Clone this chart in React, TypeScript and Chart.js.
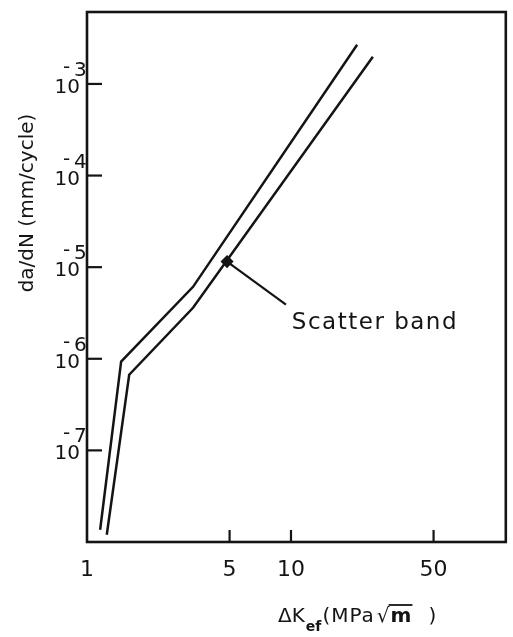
import React, { useEffect, useRef } from "react";
import { Chart, registerables } from "chart.js";

Chart.register(...registerables);

// ---- data ----
const upperDK = [1.16, 1.47, 3.31, 21.1];
const upperRate = [1.36e-8, 9.3e-7, 6.1e-6, 2.68e-3];
const lowerDK = [1.25, 1.61, 3.31, 25.2];
const lowerRate = [1.2e-8, 6.7e-7, 3.6e-6, 1.98e-3];
const pointerDK = [4.86, 9.45];
const pointerRate = [1.15e-5, 3.9e-6];
const xTicks = [1, 5, 10, 50];
const xTickLabels = ["1", "5", "10", "50"];
const xInnerTicks = [5, 10, 50];
const yTicks = [1e-3, 1e-4, 1e-5, 1e-6, 1e-7];
const yTickExponents = ["3", "4", "5", "6", "7"];
const annotationText = "Scatter band";
const annotationDK = 10.1;
const annotationRate = 2.47e-6;
const yTitle = "da/dN (mm/cycle)";

const FONT = "'DejaVu Sans', 'Liberation Sans', sans-serif";
const INK = "#141414";

const decorPlugin = {
  id: "decor",
  afterDatasetsDraw(chart: any) {
    const { ctx, chartArea } = chart;
    const xs = chart.scales.x;
    const ys = chart.scales.y;
    const { left, right, top, bottom } = chartArea;
    ctx.save();
    ctx.strokeStyle = INK;
    ctx.fillStyle = INK;
    // frame
    ctx.lineWidth = 2.6;
    ctx.strokeRect(left, top, right - left, bottom - top);
    // inward ticks
    ctx.lineWidth = 2.2;
    xInnerTicks.forEach((v) => {
      const px = xs.getPixelForValue(v);
      ctx.beginPath();
      ctx.moveTo(px, bottom);
      ctx.lineTo(px, bottom - 12);
      ctx.stroke();
    });
    yTicks.forEach((v) => {
      const py = ys.getPixelForValue(v);
      ctx.beginPath();
      ctx.moveTo(left, py);
      ctx.lineTo(left + 15, py);
      ctx.stroke();
    });
    // x tick labels
    ctx.font = `22px ${FONT}`;
    ctx.textAlign = "center";
    ctx.textBaseline = "middle";
    xTicks.forEach((v, i) => {
      ctx.fillText(xTickLabels[i], xs.getPixelForValue(v), 570);
    });
    // y tick labels: 10 with superscript exponent
    yTicks.forEach((v, i) => {
      const py = ys.getPixelForValue(v);
      ctx.textBaseline = "alphabetic";
      ctx.textAlign = "right";
      ctx.font = `20px ${FONT}`;
      ctx.fillText("10", 80, py + 9);
      ctx.textAlign = "left";
      ctx.font = `20px ${FONT}`;
      ctx.fillText("-", 63, py - 11);
      ctx.fillText(yTickExponents[i], 74, py - 8);
    });
    // y title
    ctx.save();
    ctx.translate(28, 203);
    ctx.rotate(-Math.PI / 2);
    ctx.textAlign = "center";
    ctx.textBaseline = "middle";
    ctx.font = `20px ${FONT}`;
    ctx.fillText(yTitle, 0, 0);
    ctx.restore();
    // x title: ΔK_ef (MPa√m)
    ctx.textAlign = "left";
    ctx.textBaseline = "alphabetic";
    let x = 278;
    const base = 622;
    ctx.font = `20px ${FONT}`;
    ctx.fillText("\u0394K", x, base);
    x += ctx.measureText("\u0394K").width + 1;
    ctx.font = `bold 14px ${FONT}`;
    ctx.fillText("ef", x, base + 9);
    x += ctx.measureText("ef").width + 1;
    ctx.font = `20px ${FONT}`;
    (ctx as any).letterSpacing = "1px";
    ctx.fillText("(MPa", x, base);
    x += ctx.measureText("(MPa").width + 2;
    ctx.fillText("\u221A", x, base);
    x += ctx.measureText("\u221A").width;
    ctx.font = `bold 20px ${FONT}`;
    const mW = ctx.measureText("m").width;
    ctx.fillText("m", x, base);
    ctx.lineWidth = 1.8;
    ctx.beginPath();
    ctx.moveTo(x - 2, base - 17);
    ctx.lineTo(x + mW, base - 17);
    ctx.stroke();
    x += mW + 16;
    ctx.font = `20px ${FONT}`;
    ctx.fillText(")", x, base);
    (ctx as any).letterSpacing = "0px";
    // annotation
    ctx.font = `23px ${FONT}`;
    (ctx as any).letterSpacing = "1.5px";
    ctx.textBaseline = "middle";
    ctx.fillText(annotationText, xs.getPixelForValue(annotationDK), ys.getPixelForValue(annotationRate));
    (ctx as any).letterSpacing = "0px";
    ctx.restore();
  },
};

export default function App() {
  const ref = useRef<HTMLCanvasElement | null>(null);
  useEffect(() => {
    if (!ref.current) return;
    const chart = new Chart(ref.current, {
      type: "scatter",
      data: {
        datasets: [
          {
            label: "upper",
            data: upperDK.map((v, i) => ({ x: v, y: upperRate[i] })),
            showLine: true,
            borderColor: INK,
            borderWidth: 2.5,
            pointRadius: 0,
            tension: 0,
          },
          {
            label: "lower",
            data: lowerDK.map((v, i) => ({ x: v, y: lowerRate[i] })),
            showLine: true,
            borderColor: INK,
            borderWidth: 2.5,
            pointRadius: 0,
            tension: 0,
          },
          {
            label: "pointer",
            data: pointerDK.map((v, i) => ({ x: v, y: pointerRate[i] })),
            showLine: true,
            borderColor: INK,
            backgroundColor: INK,
            borderWidth: 2.2,
            pointRadius: [5, 0],
            pointStyle: "rectRot",
            tension: 0,
          },
        ],
      },
      options: {
        responsive: false,
        maintainAspectRatio: false,
        animation: false,
        layout: { padding: { left: 87, top: 12, right: 7, bottom: 95 } },
        scales: {
          x: { type: "logarithmic", min: 1, max: 113, display: false },
          y: { type: "logarithmic", min: 1e-8, max: 6.1e-3, display: false },
        },
        plugins: { legend: { display: false }, tooltip: { enabled: false } },
      },
      plugins: [decorPlugin],
    } as any);
    return () => chart.destroy();
  }, []);
  return (
    <div style={{ position: "absolute", left: 0, top: 0, width: 513, height: 637, background: "#fff" }}>
      <canvas ref={ref} width={513} height={637} style={{ width: 513, height: 637 }} />
    </div>
  );
}
